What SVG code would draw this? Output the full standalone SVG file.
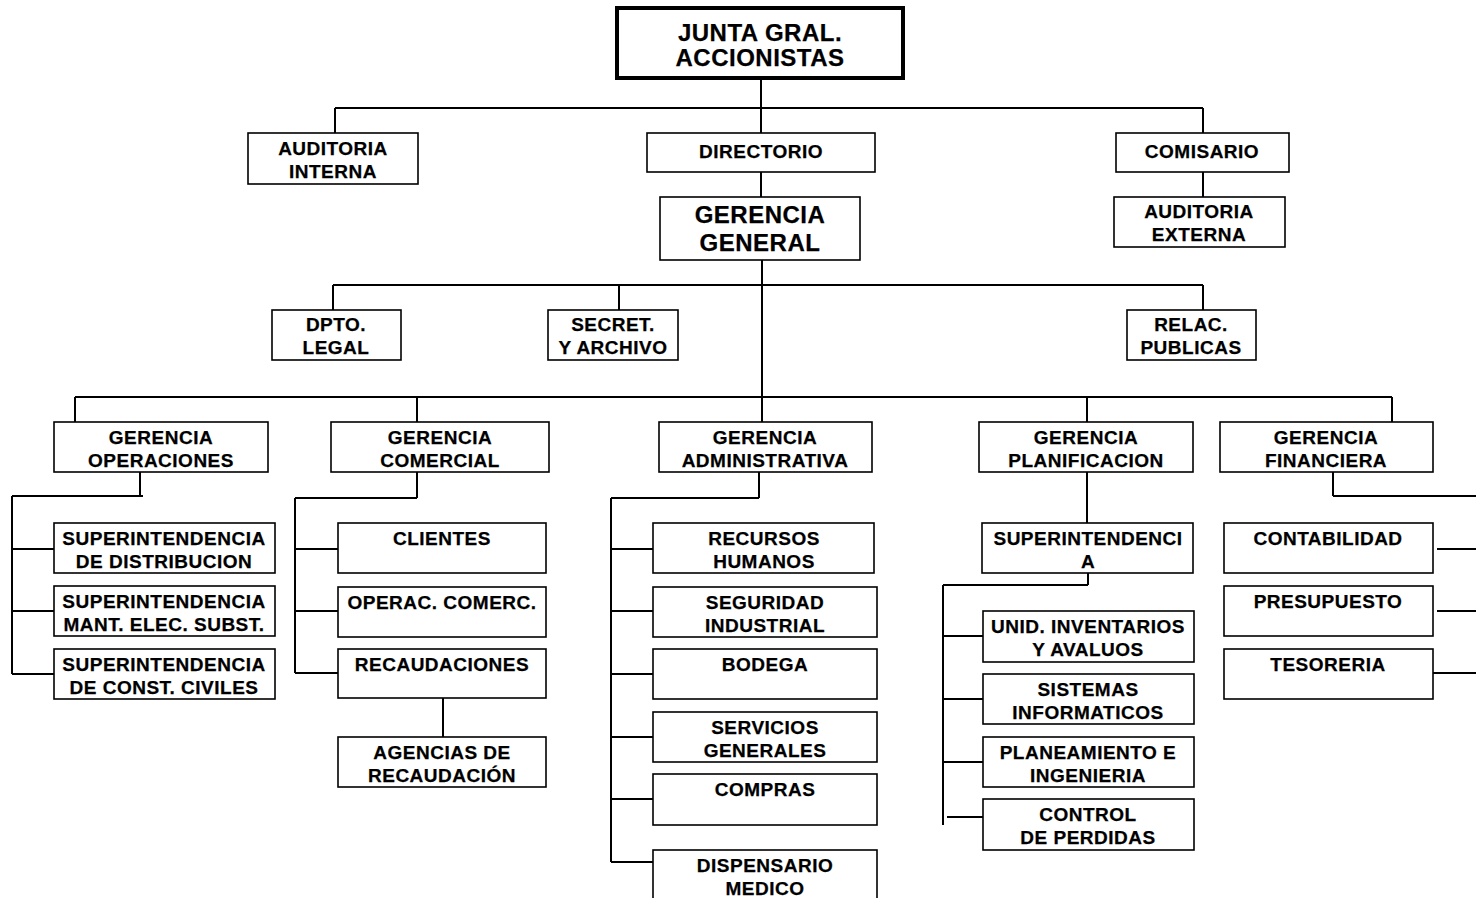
<svg xmlns="http://www.w3.org/2000/svg" width="1476" height="898" viewBox="0 0 1476 898">
<style>
.b{fill:#fff;stroke:#000;stroke-width:1.6}
.bt{fill:#fff;stroke:#000;stroke-width:4}
.c{stroke:#000;stroke-width:2;fill:none}
text{font-family:"Liberation Sans",Arial,sans-serif;font-weight:bold;fill:#000;stroke:#000;stroke-width:0.25;text-anchor:middle}
.s{font-size:19px;letter-spacing:0.5px}
.L{font-size:24px;letter-spacing:0.5px}
</style>
<rect width="1476" height="898" fill="#fff"/>
<g id="connectors">
<path class="c" d="M761 78V133M335 108H1203M335 108V133M1203 108V133M1203 172V197M761 172V197M762 260V422M333 285H1203M333 285V310M619 285V310M1203 285V310M75 397H1392M75 397V422M417 397V422M1087 397V422M1392 397V422"/>
<path class="c" d="M140 472V496M12 496H143M12 496V674M12 549H54M12 611H54M12 674H54"/>
<path class="c" d="M417 472V498M295 498H417M295 498V673M295 549H338M295 611H338M295 673H338M443 698V737"/>
<path class="c" d="M759 472V498M611 498H759M611 498V862M611 549H653M611 611H653M611 674H653M611 737H653M611 799H653M611 862H653"/>
<path class="c" d="M1087 472V523M1088 573V585M943 585H1088M943 585V825M943 636H983M943 699H983M943 762H983M947 817H990"/>
<path class="c" d="M1333 472V496M1333 496H1476M1437 549H1476M1437 611H1476M1433 673H1476"/>
</g>
<g id="junta"><rect class="bt" x="617" y="8" width="286" height="70"/><text class="L" x="760" y="41">JUNTA GRAL.</text><text class="L" x="760" y="66">ACCIONISTAS</text></g>
<g id="auditoria-interna"><rect class="b" x="248" y="133" width="170" height="51"/><text class="s" x="333" y="155">AUDITORIA</text><text class="s" x="333" y="178">INTERNA</text></g>
<g id="directorio"><rect class="b" x="647" y="133" width="228" height="39"/><text class="s" x="761" y="158">DIRECTORIO</text></g>
<g id="comisario"><rect class="b" x="1116" y="133" width="173" height="39"/><text class="s" x="1202" y="158">COMISARIO</text></g>
<g id="auditoria-externa"><rect class="b" x="1114" y="197" width="171" height="50"/><text class="s" x="1199" y="218">AUDITORIA</text><text class="s" x="1199" y="241">EXTERNA</text></g>
<g id="gerencia-general"><rect class="b" x="660" y="197" width="200" height="63"/><text class="L" x="760" y="223">GERENCIA</text><text class="L" x="760" y="251">GENERAL</text></g>
<g id="dpto-legal"><rect class="b" x="272" y="310" width="129" height="50"/><text class="s" x="336" y="331">DPTO.</text><text class="s" x="336" y="354">LEGAL</text></g>
<g id="secret"><rect class="b" x="548" y="310" width="130" height="50"/><text class="s" x="613" y="331">SECRET.</text><text class="s" x="613" y="354">Y ARCHIVO</text></g>
<g id="relac"><rect class="b" x="1127" y="310" width="129" height="50"/><text class="s" x="1191" y="331">RELAC.</text><text class="s" x="1191" y="354">PUBLICAS</text></g>
<g id="g-operaciones"><rect class="b" x="54" y="422" width="214" height="50"/><text class="s" x="161" y="444">GERENCIA</text><text class="s" x="161" y="467">OPERACIONES</text></g>
<g id="g-comercial"><rect class="b" x="331" y="422" width="218" height="50"/><text class="s" x="440" y="444">GERENCIA</text><text class="s" x="440" y="467">COMERCIAL</text></g>
<g id="g-administrativa"><rect class="b" x="659" y="422" width="213" height="50"/><text class="s" x="765" y="444">GERENCIA</text><text class="s" x="765" y="467">ADMINISTRATIVA</text></g>
<g id="g-planificacion"><rect class="b" x="979" y="422" width="214" height="50"/><text class="s" x="1086" y="444">GERENCIA</text><text class="s" x="1086" y="467">PLANIFICACION</text></g>
<g id="g-financiera"><rect class="b" x="1220" y="422" width="213" height="50"/><text class="s" x="1326" y="444">GERENCIA</text><text class="s" x="1326" y="467">FINANCIERA</text></g>
<g id="sup-distribucion"><rect class="b" x="54" y="523" width="221" height="50"/><text class="s" x="164" y="545">SUPERINTENDENCIA</text><text class="s" x="164" y="568">DE DISTRIBUCION</text></g>
<g id="sup-mant"><rect class="b" x="54" y="586" width="221" height="50"/><text class="s" x="164" y="608">SUPERINTENDENCIA</text><text class="s" x="164" y="631">MANT. ELEC. SUBST.</text></g>
<g id="sup-civiles"><rect class="b" x="54" y="649" width="221" height="50"/><text class="s" x="164" y="671">SUPERINTENDENCIA</text><text class="s" x="164" y="694">DE CONST. CIVILES</text></g>
<g id="clientes"><rect class="b" x="338" y="523" width="208" height="50"/><text class="s" x="442" y="545">CLIENTES</text></g>
<g id="operac-comerc"><rect class="b" x="338" y="587" width="208" height="50"/><text class="s" x="442" y="609">OPERAC. COMERC.</text></g>
<g id="recaudaciones"><rect class="b" x="338" y="649" width="208" height="49"/><text class="s" x="442" y="671">RECAUDACIONES</text></g>
<g id="agencias"><rect class="b" x="338" y="737" width="208" height="50"/><text class="s" x="442" y="759">AGENCIAS DE</text><text class="s" x="442" y="782">RECAUDACIÓN</text></g>
<g id="recursos-humanos"><rect class="b" x="653" y="523" width="221" height="50"/><text class="s" x="764" y="545">RECURSOS</text><text class="s" x="764" y="568">HUMANOS</text></g>
<g id="seguridad"><rect class="b" x="653" y="587" width="224" height="50"/><text class="s" x="765" y="609">SEGURIDAD</text><text class="s" x="765" y="632">INDUSTRIAL</text></g>
<g id="bodega"><rect class="b" x="653" y="649" width="224" height="50"/><text class="s" x="765" y="671">BODEGA</text></g>
<g id="servicios"><rect class="b" x="653" y="712" width="224" height="50"/><text class="s" x="765" y="734">SERVICIOS</text><text class="s" x="765" y="757">GENERALES</text></g>
<g id="compras"><rect class="b" x="653" y="774" width="224" height="51"/><text class="s" x="765" y="796">COMPRAS</text></g>
<g id="dispensario"><rect class="b" x="653" y="850" width="224" height="60"/><text class="s" x="765" y="872">DISPENSARIO</text><text class="s" x="765" y="895">MEDICO</text></g>
<g id="superintendencia"><rect class="b" x="982" y="523" width="211" height="50"/><text class="s" x="1088" y="545">SUPERINTENDENCI</text><text class="s" x="1088" y="568">A</text></g>
<g id="unid-inventarios"><rect class="b" x="983" y="611" width="211" height="51"/><text class="s" x="1088" y="633">UNID. INVENTARIOS</text><text class="s" x="1088" y="656">Y AVALUOS</text></g>
<g id="sistemas"><rect class="b" x="983" y="674" width="211" height="50"/><text class="s" x="1088" y="696">SISTEMAS</text><text class="s" x="1088" y="719">INFORMATICOS</text></g>
<g id="planeamiento"><rect class="b" x="983" y="737" width="211" height="50"/><text class="s" x="1088" y="759">PLANEAMIENTO E</text><text class="s" x="1088" y="782">INGENIERIA</text></g>
<g id="control"><rect class="b" x="983" y="799" width="211" height="51"/><text class="s" x="1088" y="821">CONTROL</text><text class="s" x="1088" y="844">DE PERDIDAS</text></g>
<g id="contabilidad"><rect class="b" x="1224" y="523" width="209" height="50"/><text class="s" x="1328" y="545">CONTABILIDAD</text></g>
<g id="presupuesto"><rect class="b" x="1224" y="586" width="209" height="50"/><text class="s" x="1328" y="608">PRESUPUESTO</text></g>
<g id="tesoreria"><rect class="b" x="1224" y="649" width="209" height="50"/><text class="s" x="1328" y="671">TESORERIA</text></g>
</svg>
